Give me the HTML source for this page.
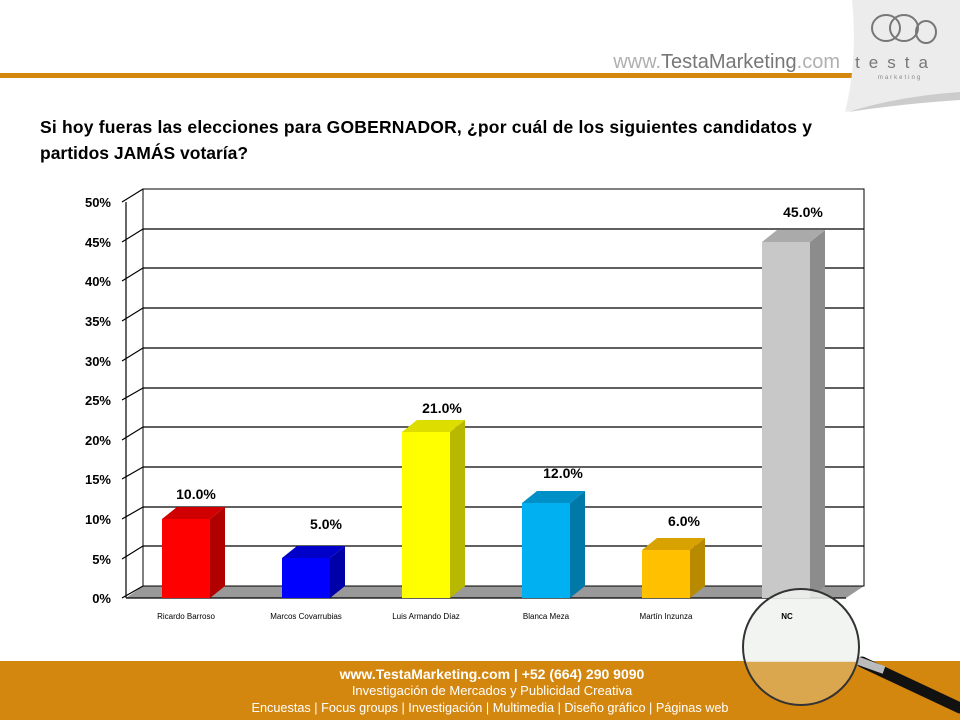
<!DOCTYPE html>
<html><head><meta charset="utf-8"><style>
body{margin:0;width:960px;height:720px;overflow:hidden;background:#fff;font-family:"Liberation Sans",sans-serif}
</style></head><body>
<svg width="960" height="720" viewBox="0 0 960 720" xmlns="http://www.w3.org/2000/svg" font-family="Liberation Sans, sans-serif">
<defs><clipPath id="lens"><circle cx="801" cy="647" r="58"/></clipPath></defs>
<rect x="0" y="73" width="852" height="5" fill="#d4870f"/>
<text x="840" y="68" text-anchor="end" font-size="20" fill="#8a8a8a"><tspan fill="#b0b0b0">www.</tspan><tspan fill="#777">TestaMarketing</tspan><tspan fill="#b0b0b0">.com</tspan></text>
<path d="M852 0 L960 0 L960 95 Q900 100 845 112 Q858 60 852 0Z" fill="#ececec"/>
<path d="M848 112 Q900 96 960 92 L960 100 Q900 104 848 112Z" fill="#ccc"/>
<ellipse cx="886" cy="28" rx="14" ry="13" fill="none" stroke="#777" stroke-width="2"/>
<ellipse cx="904" cy="28" rx="14" ry="13" fill="none" stroke="#777" stroke-width="2"/>
<ellipse cx="926" cy="32" rx="10" ry="11" fill="none" stroke="#777" stroke-width="2"/>
<text x="896" y="68" text-anchor="middle" font-size="17" fill="#777" letter-spacing="9">testa</text>
<text x="900" y="79" text-anchor="middle" font-size="6" fill="#888" letter-spacing="2">marketing</text>
<text font-size="17.5" font-weight="bold" fill="#000"><tspan x="40" y="133" textLength="772" lengthAdjust="spacing">Si hoy fueras las elecciones para GOBERNADOR, ¿por cuál de los siguientes candidatos y</tspan><tspan x="40" y="159">partidos JAMÁS votaría?</tspan></text>
<polygon points="126,598 143,586 864,586 846,598" fill="#999"/>
<rect x="143" y="189" width="721" height="397" fill="#fff" stroke="#000" stroke-width="1"/>
<g stroke="#000" stroke-width="1.2" fill="none">
<line x1="143" y1="229" x2="864" y2="229"/><line x1="143" y1="268" x2="864" y2="268"/><line x1="143" y1="308" x2="864" y2="308"/><line x1="143" y1="348" x2="864" y2="348"/><line x1="143" y1="388" x2="864" y2="388"/><line x1="143" y1="427" x2="864" y2="427"/><line x1="143" y1="467" x2="864" y2="467"/><line x1="143" y1="507" x2="864" y2="507"/><line x1="143" y1="546" x2="864" y2="546"/>
<path d="M126 598 L126 202"/>
<path d="M122 202L143 189M122 242L143 229M122 281L143 268M122 321L143 308M122 361L143 348M122 400L143 388M122 440L143 427M122 479L143 467M122 519L143 507M122 559L143 546M122 598L143 586"/>
<line x1="126" y1="598" x2="846" y2="598"/>
</g>
<g font-size="13" font-weight="bold" text-anchor="end" fill="#000">
<text x="111" y="207">50%</text><text x="111" y="247">45%</text><text x="111" y="286">40%</text><text x="111" y="326">35%</text><text x="111" y="366">30%</text><text x="111" y="405">25%</text><text x="111" y="445">20%</text><text x="111" y="484">15%</text><text x="111" y="524">10%</text><text x="111" y="564">5%</text><text x="111" y="603">0%</text>
</g>
<g>
<rect x="162" y="519" width="48" height="79" fill="#ff0000"/><polygon points="210,519 225,507 225,586 210,598" fill="#b00000"/><polygon points="162,519 177,507 225,507 210,519" fill="#d00000"/>
<rect x="282" y="558" width="48" height="40" fill="#0000ff"/><polygon points="330,558 345,546 345,586 330,598" fill="#0000a8"/><polygon points="282,558 297,546 345,546 330,558" fill="#0000c8"/>
<rect x="402" y="432" width="48" height="166" fill="#ffff00"/><polygon points="450,432 465,420 465,586 450,598" fill="#b8b800"/><polygon points="402,432 417,420 465,420 450,432" fill="#dddd00"/>
<rect x="522" y="503" width="48" height="95" fill="#00b0f0"/><polygon points="570,503 585,491 585,586 570,598" fill="#0078a8"/><polygon points="522,503 537,491 585,491 570,503" fill="#0090c8"/>
<rect x="642" y="550" width="48" height="48" fill="#ffc000"/><polygon points="690,550 705,538 705,586 690,598" fill="#b88a00"/><polygon points="642,550 657,538 705,538 690,550" fill="#d8a200"/>
<rect x="762" y="242" width="48" height="356" fill="#c8c8c8"/><polygon points="810,242 825,230 825,586 810,598" fill="#8c8c8c"/><polygon points="762,242 777,230 825,230 810,242" fill="#aaa"/>
</g>
<g font-size="14" font-weight="bold" text-anchor="middle" fill="#000">
<text x="196" y="499">10.0%</text><text x="326" y="529">5.0%</text><text x="442" y="413">21.0%</text><text x="563" y="478">12.0%</text><text x="684" y="526">6.0%</text><text x="803" y="217">45.0%</text>
</g>
<g font-size="8" text-anchor="middle" fill="#000">
<text x="186" y="619">Ricardo Barroso</text><text x="306" y="619">Marcos Covarrubias</text><text x="426" y="619">Luis Armando Díaz</text><text x="546" y="619">Blanca Meza</text><text x="666" y="619">Martín Inzunza</text>
</g>
<rect x="0" y="661" width="960" height="59" fill="#d4870f"/>
<g text-anchor="middle" fill="#fff">
<text x="492" y="679" font-size="14" font-weight="bold">www.TestaMarketing.com | +52 (664) 290 9090</text>
<text x="492" y="695" font-size="13">Investigación de Mercados y Publicidad Creativa</text>
<text x="490" y="712" font-size="12.7">Encuestas | Focus groups | Investigación | Multimedia | Diseño gráfico | Páginas web</text>
</g>
<line x1="862" y1="662" x2="960" y2="708" stroke="#111" stroke-width="11" stroke-linecap="round"/>
<line x1="856" y1="660" x2="884" y2="670" stroke="#bbb" stroke-width="8"/>
<g clip-path="url(#lens)">
<rect x="740" y="585" width="125" height="77" fill="#eef2ee" fill-opacity="0.85"/>
<rect x="740" y="662" width="125" height="50" fill="#dba74e"/>
</g>
<circle cx="801" cy="647" r="58" fill="none" stroke="#333" stroke-width="2"/>
<text x="787" y="619" font-size="8" font-weight="bold" text-anchor="middle">NC</text>
</svg>
</body></html>
